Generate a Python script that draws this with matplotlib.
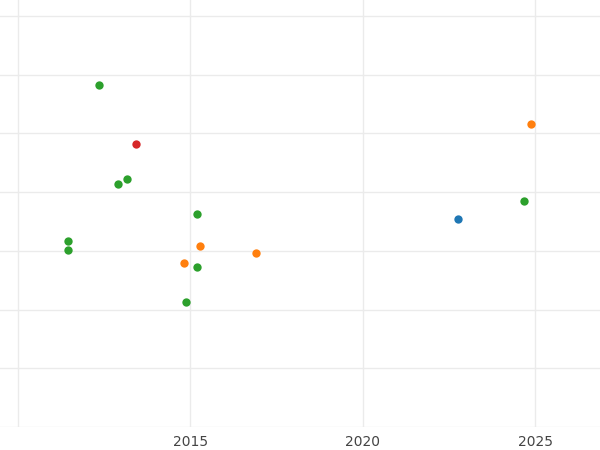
import matplotlib
matplotlib.use("Agg")
import matplotlib.pyplot as plt

green_x = [2012.35, 2012.9, 2013.16, 2011.45, 2011.45, 2015.19, 2015.19, 2014.87, 2024.67]
green_y = [5.83, 4.14, 4.22, 3.17, 3.02, 3.63, 2.73, 2.13, 3.85]
red_x = [2013.42]
red_y = [4.82]
orange_x = [2024.87, 2015.28, 2014.81, 2016.9]
orange_y = [5.16, 3.08, 2.79, 2.96]
blue_x = [2022.75]
blue_y = [3.54]
xticks = [2015, 2020, 2025]

fig = plt.figure(figsize=(6, 4.5), dpi=100)
ax = fig.add_axes([0, 0.051, 1, 0.949])
ax.set_xlim(2009.48, 2026.87)
ax.set_ylim(0, 7.27)
ax.set_xticks([2010] + xticks)
ax.set_xticklabels([""] + [str(t) for t in xticks])
ax.set_yticks(range(0, 8))
ax.set_yticklabels([])
ax.grid(True, color="#ebebeb", linewidth=1)
ax.set_axisbelow(True)
for s in ax.spines.values():
    s.set_visible(False)
ax.tick_params(length=0, labelsize=10, labelcolor="#444444", pad=6)
kw = dict(s=36, linewidths=0, zorder=3)
ax.scatter(green_x, green_y, color="#2ca02c", **kw)
ax.scatter(red_x, red_y, color="#d62728", **kw)
ax.scatter(orange_x, orange_y, color="#ff7f0e", **kw)
ax.scatter(blue_x, blue_y, color="#1f77b4", **kw)
fig.savefig("out.png", dpi=100)
